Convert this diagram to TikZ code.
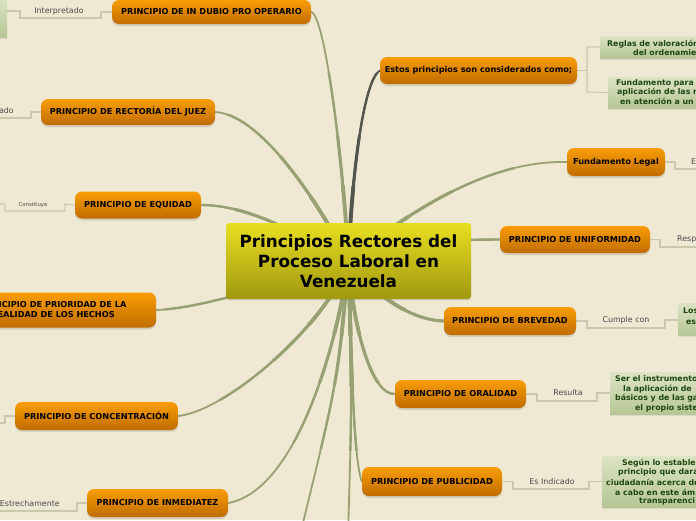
\documentclass[tikz,border=0pt]{standalone}
\usepackage{fontspec}
\usetikzlibrary{shadows}
\newfontfamily\dvs{DejaVu Sans}
\definecolor{bgc}{HTML}{EFE9D3}
\definecolor{orT}{HTML}{F99D05}
\definecolor{orB}{HTML}{C06C00}
\definecolor{yeT}{HTML}{E8DF20}
\definecolor{yeB}{HTML}{A09810}
\definecolor{grT}{HTML}{DCE4C4}
\definecolor{grB}{HTML}{B6C696}
\definecolor{gtc}{HTML}{1E4712}
\definecolor{brc}{HTML}{98A173}
\definecolor{gbr}{HTML}{55554F}
\definecolor{lnk}{HTML}{C9C8AC}
\definecolor{lblc}{HTML}{4A4A4A}
\pgfdeclarelayer{bglayer}
\pgfdeclarelayer{edgelayer}
\pgfsetlayers{bglayer,edgelayer,main}
\tikzset{
  onode/.style={rounded corners=7pt, top color=orT, bottom color=orB, draw=none, inner sep=0pt,
    font=\dvs\bfseries\fontsize{8.2}{10}\selectfont, text=black, align=center,
    drop shadow={shadow xshift=0pt, shadow yshift=-2pt, opacity=0.25}},
  rootnode/.style={rounded corners=3pt, top color=yeT, bottom color=yeB, draw=none, inner sep=0pt,
    font=\dvs\bfseries\fontsize{16.8}{20}\selectfont, text=black, align=center,
    drop shadow={shadow xshift=0pt, shadow yshift=-1.5pt, opacity=0.2}},
  gbox/.style={top color=grT, bottom color=grB, draw=none, inner sep=0pt,
    drop shadow={shadow xshift=0pt, shadow yshift=-1.5pt, opacity=0.15}},
  gtxt/.style={font=\dvs\bfseries\fontsize{7.8}{9}\selectfont, text=gtc, anchor=west, inner sep=0pt},
  branch/.style={draw=brc, line cap=round},
  graybranch/.style={draw=gbr, line cap=round},
  link/.style={line width=1.1pt, draw=lnk},
  lbl/.style={font=\dvs\fontsize{7.9}{9}\selectfont, text=lblc, inner sep=0pt},
  tinylbl/.style={font=\dvs\fontsize{5.4}{6}\selectfont, text=lblc, inner sep=0pt},
}
\newcommand\mybranches[1]{%
\draw[branch,line width=#1] (root.center) .. controls (343,160) and (325,15) .. (dubio.east);
\draw[branch,line width=#1] (root.center) .. controls (325,215) and (265,115) .. (rect.east);
\draw[branch,line width=#1] (root.center) .. controls (300,235) and (250,205) .. (equ.east);
\draw[branch,line width=#1] (root.center) .. controls (300,275) and (210,308) .. (prio.east);
\draw[branch,line width=#1] (root.center) .. controls (330,320) and (230,410) .. (conc.east);
\draw[branch,line width=#1] (root.center) .. controls (340,330) and (300,490) .. (inm.east);
\draw[branch,line width=#1] (root.center) .. controls (338,380) .. (offA);
\draw[branch,line width=#1] (root.center) .. controls (352,400) .. (offB);
\draw[graybranch,line width=#1] (root.center) .. controls (352,170) and (364,80) .. (estos.west);
\draw[branch,line width=#1] (root.center) .. controls (410,210) and (490,160) .. (fund.west);
\draw[branch,line width=#1] (root.center) .. controls (430,240) .. (unif.west);
\draw[branch,line width=#1] (root.center) .. controls (375,295) and (410,320) .. (brev.west);
\draw[branch,line width=#1] (root.center) .. controls (352,320) and (370,395) .. (oral.west);
\draw[branch,line width=#1] (root.center) .. controls (352,380) and (354,460) .. (pub.west);
}
\begin{document}
\begin{tikzpicture}[x=1pt,y=-1pt]
\useasboundingbox (0,0) rectangle (696,520);
\begin{pgfonlayer}{bglayer}
\fill[bgc] (0,0) rectangle (696,520);
\end{pgfonlayer}
\clip (0,0) rectangle (696,520);

% root
\node[rootnode, minimum width=245pt, minimum height=76pt] (root) at (348.5,261)
  {Principios Rectores del\\Proceso Laboral en\\Venezuela};

% orange nodes
\node[onode, minimum width=199pt, minimum height=24pt] (dubio) at (211.5,12) {PRINCIPIO DE IN DUBIO PRO OPERARIO};
\node[onode, minimum width=174pt, minimum height=26pt] (rect) at (128,112) {PRINCIPIO DE RECTORÍA DEL JUEZ};
\node[onode, minimum width=126pt, minimum height=27pt] (equ) at (138,205) {PRINCIPIO DE EQUIDAD};
\node[onode, minimum width=206pt, minimum height=35pt] (prio) at (53,310) {PRINCIPIO DE PRIORIDAD DE LA\\REALIDAD DE LOS HECHOS};
\node[onode, minimum width=163pt, minimum height=28pt] (conc) at (96.5,416) {PRINCIPIO DE CONCENTRACIÓN};
\node[onode, minimum width=141pt, minimum height=28pt] (inm) at (157.5,503) {PRINCIPIO DE INMEDIATEZ};
\node[onode, minimum width=197pt, minimum height=27pt] (estos) at (478.5,70.5) {Estos principios son considerados como;};
\node[onode, minimum width=98pt, minimum height=28pt] (fund) at (616,162) {Fundamento Legal};
\node[onode, minimum width=150pt, minimum height=27pt] (unif) at (575,239.5) {PRINCIPIO DE UNIFORMIDAD};
\node[onode, minimum width=132pt, minimum height=28pt] (brev) at (510,321) {PRINCIPIO DE BREVEDAD};
\node[onode, minimum width=131pt, minimum height=28pt] (oral) at (460.5,394) {PRINCIPIO DE ORALIDAD};
\node[onode, minimum width=140pt, minimum height=29pt] (pub) at (432,481.5) {PRINCIPIO DE PUBLICIDAD};

% green boxes
\node[gbox, minimum width=30pt, minimum height=40pt] (gtl) at (-8,17) {};
\node[gbox, minimum width=120pt, minimum height=22pt] (g1) at (660,47) {};
\node[gbox, minimum width=112pt, minimum height=31pt] (g2) at (664,92.5) {};
\node[gbox, minimum width=42pt, minimum height=32pt] (g3) at (699,319) {};
\node[gbox, minimum width=110pt, minimum height=42pt] (g4) at (665,393) {};
\node[gbox, minimum width=118pt, minimum height=51pt] (g5) at (661,481.5) {};

% green texts
\node[gtxt] (t1a) at (607,44) {Reglas de valoración};
\node[gtxt] (t1b) at (633,53) {del ordenamie};
\node[gtxt] (t2a) at (616,83) {Fundamento para};
\node[gtxt] (t2b) at (617,92) {aplicación de las n};
\node[gtxt] (t2c) at (620,101) {en atención a un};
\node[gtxt] (t3a) at (683,311) {Los};
\node[gtxt] (t3b) at (686,322) {es};
\node[gtxt] (t4a) at (615,379) {Ser el instrumento};
\node[gtxt] (t4b) at (623,389) {la aplicación de};
\node[gtxt] (t4c) at (615,398) {básicos y de las ga};
\node[gtxt] (t4d) at (635,408) {el propio siste};
\node[gtxt] (t5a) at (622,463) {Según lo estable};
\node[gtxt] (t5b) at (618,472) {principio que dará};
\node[gtxt] (t5c) at (606,482) {ciudadanía acerca de};
\node[gtxt] (t5d) at (615,492) {a cabo en este ám};
\node[gtxt] (t5e) at (639,501) {transparenci};

% link labels
\node[lbl] (l1) at (59,11) {Interpretado};
\node[lbl, anchor=east] (l2) at (14,111) {ado};
\node[tinylbl] (l3) at (33,205) {Constituye};
\node[lbl, anchor=east] (l5) at (60,504) {Estrechamente};
\node[lbl, anchor=west] (l6) at (691,162) {E};
\node[lbl, anchor=west] (l7) at (677,239) {Resp};
\node[lbl] (l8) at (626,320) {Cumple con};
\node[lbl] (l9) at (568,393) {Resulta};
\node[lbl] (l10) at (552,482) {Es Indicado};

\coordinate (offA) at (300,535);
\coordinate (offB) at (348,535);
\coordinate (eL2) at (-5,118);
\coordinate (eL4) at (-5,423);
\coordinate (eL5) at (-5,511);
\coordinate (eR6) at (700,169);
\coordinate (eR7) at (700,247);

\begin{pgfonlayer}{edgelayer}
% branches, tapering towards the ends
\mybranches{1.8pt}
\begin{scope}
\clip (root.center) circle (190pt);
\mybranches{2.4pt}
\end{scope}
\begin{scope}
\clip (root.center) circle (125pt);
\mybranches{3.1pt}
\end{scope}
\begin{scope}
\clip (root.center) circle (75pt);
\mybranches{3.8pt}
\end{scope}
% links
\draw[link] (dubio.west) -- (101,12) -- (101,18) -- (20,18) -- (20,11) -- (gtl.east |- 0,11);
\draw[link] (rect.west) -- (31,112) -- (31,118) -- (eL2);
\draw[link] (equ.west) -- (65,204) -- (65,211) -- (5,211) -- (5,204) -- (-5,204);
\draw[link] (conc.west) -- (5,416) -- (5,423) -- (eL4);
\draw[link] (inm.west) -- (77,503) -- (77,511) -- (eL5);
\draw[link] (estos.east) -- (587,70.5);
\draw[link] (g1.west) -- (587,47) -- (587,92) -- (g2.west);
\draw[link] (fund.east) -- (675,162) -- (675,169) -- (eR6);
\draw[link] (unif.east) -- (660,239.5) -- (660,247) -- (eR7);
\draw[link] (brev.east) -- (587,321) -- (587,328) -- (665,328) -- (665,320) -- (g3.west |- 0,320);
\draw[link] (oral.east) -- (537,394) -- (537,401) -- (597,401) -- (597,393) -- (g4.west);
\draw[link] (pub.east) -- (513,481.5) -- (513,489) -- (589,489) -- (589,481.5) -- (g5.west);
\end{pgfonlayer}
\end{tikzpicture}
\end{document}
